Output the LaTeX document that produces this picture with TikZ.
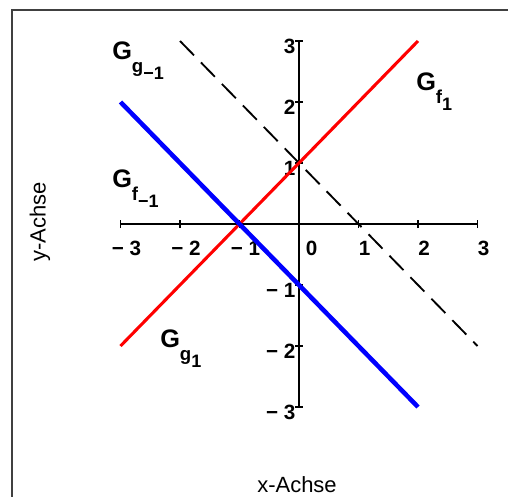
\documentclass[tikz,border=0pt]{standalone}
\usepackage{fontspec}
\setmainfont{Liberation Sans}
\newcommand\subsz{\fontsize{14pt}{14pt}\bfseries\selectfont}
\newcommand\subsubsz{\fontsize{13.5pt}{14pt}\bfseries\selectfont}
\begin{document}
\begin{tikzpicture}[x=0.75pt,y=-0.75pt,
  frame/.style={draw=black!75, line width=1.6pt},
  axisline/.style={draw=black, line width=1.1pt},
  ticklab/.style={inner sep=0pt, font=\fontsize{15.5pt}{16pt}\bfseries\selectfont},
  axislabel/.style={inner sep=0pt, font=\fontsize{16.5pt}{17pt}\selectfont},
  glab/.style={inner sep=0pt, anchor=base west, font=\fontsize{19pt}{21pt}\bfseries\selectfont},
  redline/.style={draw=red, line width=2.3pt},
  blueline/.style={draw=blue, line width=3.4pt},
  dashline/.style={draw=black, line width=1.4pt, dash pattern=on 15pt off 7.5pt}]
\useasboundingbox (0,0) rectangle (508,497);
\clip (0,0) rectangle (508,497);
\draw[frame] (12,10) rectangle (540,530);
\node[axislabel, rotate=90] (ylab) at (40,222) {y-Achse};
\node[axislabel] (xlab) at (297,485) {x-Achse};
\begin{scope}[shift={(299,224)}, x=44.625pt, y=45.75pt]
  \coordinate (xl) at (-3,0); \coordinate (xr) at (3,0);
  \coordinate (yb) at (0,-3); \coordinate (yt) at (0,3);
  \draw[axisline] (xl) -- (xr);
  \draw[axisline] (yb) -- (yt);
  \foreach \i in {-3,...,3} {
    \draw[axisline] (\i,0) ++(0,-3pt) -- ++(0,6pt);
  }
  \foreach \i in {-3,-2,-1,1,2,3} {
    \draw[axisline] (0,\i) ++(-3pt,0) -- ++(6pt,0);
  }
  % x tick labels
  \foreach \i/\n/\t in {-3/a/{− 3},-2/b/{− 2},-1/c/{− 1},1/e/1,2/f/2,3/g/3} {
    \node[ticklab] (xt\n) at ([xshift=4.5pt, yshift=-18pt]\i,0) {\t};
  }
  \node[ticklab] (xtd) at ([xshift=9.5pt, yshift=-18pt]0,0) {0};
  % y tick labels
  \foreach \i/\n/\t in {-3/a/{− 3},-2/b/{− 2},-1/c/{− 1},1/e/1,2/f/2,3/g/3} {
    \node[ticklab, anchor=east] (yt\n) at ([xshift=-2.5pt, yshift=-3.75pt]0,\i) {\t};
  }
  % graphs
  \coordinate (fa) at (-3,-2); \coordinate (fb) at (2,3);
  \coordinate (ga) at (-3,2); \coordinate (gb) at (2,-3);
  \coordinate (ha) at (-2,3); \coordinate (hb) at (3,-2);
  \draw[dashline] (ha) -- (hb);
  \draw[redline] (fa) -- (fb);
  \draw[blueline] (ga) -- (gb);
\end{scope}
\node[glab] (Ggm) at (112,59) {G\raisebox{-10pt}{\subsz g\raisebox{-5.5pt}{\subsubsz −1}}};
\node[glab] (Gfm) at (112,187) {G\raisebox{-10pt}{\subsz f\raisebox{-5.5pt}{\subsubsz −1}}};
\node[glab] (Gf) at (416,90) {G\raisebox{-10pt}{\subsz f\raisebox{-5.5pt}{\subsubsz 1}}};
\node[glab] (Gg) at (160,347) {G\raisebox{-10pt}{\subsz g\raisebox{-5.5pt}{\subsubsz 1}}};
\end{tikzpicture}
\end{document}
